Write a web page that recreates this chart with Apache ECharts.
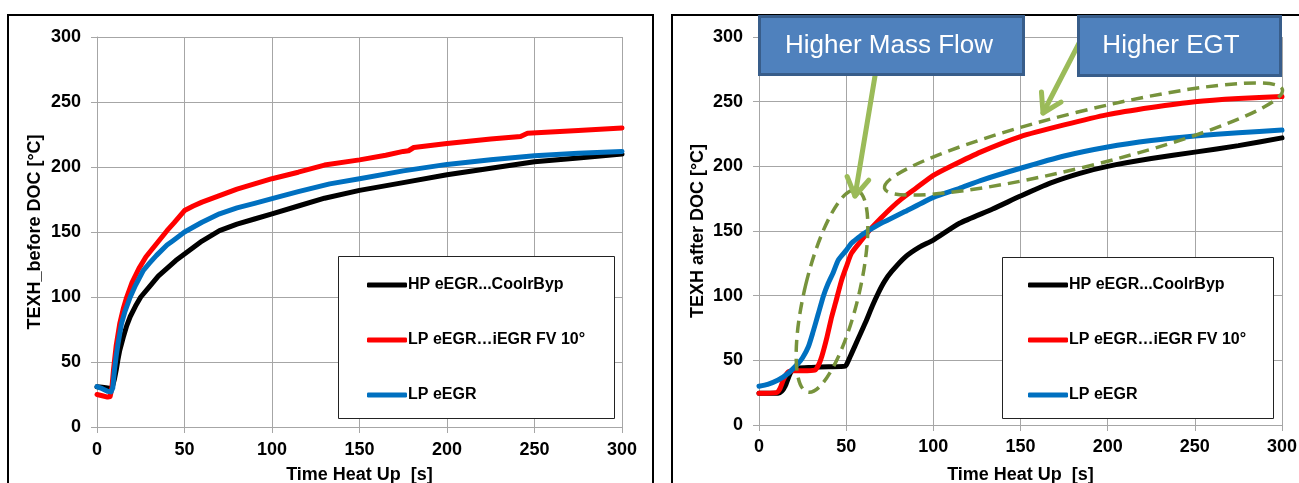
<!DOCTYPE html>
<html>
<head>
<meta charset="utf-8">
<title>TEXH before / after DOC</title>
<script src="https://cdn.jsdelivr.net/npm/echarts@6/dist/echarts.min.js"></script>
<style>
  html, body { margin: 0; padding: 0; background: #fff; }
  #chart { width: 1299px; height: 483px; }
</style>
</head>
<body>
<div id="chart"></div>
<script>
// legend names (same order in both panels)
const seriesNames = ["HP eEGR...CoolrByp", "LP eEGR…iEGR FV 10°", "LP eEGR"];

// left panel: TEXH before DOC
const beforeHpTime = [0, 3, 6, 8, 9, 10, 11, 12, 13, 15, 17, 19, 22, 25, 30, 35, 40, 45, 50, 60, 70, 80, 90, 100, 115, 130, 150, 175, 200, 225, 250, 275, 300];
const beforeHpTemp = [31, 30.5, 30, 29.5, 32, 37, 44, 52, 59, 69, 78, 85, 93, 100, 108, 116, 122, 128, 133, 143, 151, 156, 160, 164, 170, 176, 182, 188, 194, 199, 204, 207, 210];

const beforeFvTime = [0, 3, 6, 7.5, 8.5, 9.5, 11, 13, 15, 17, 20, 24, 28, 34, 40, 44, 50, 55, 60, 70, 80, 90, 100, 115, 130, 150, 165, 175, 178, 181, 200, 225, 242, 246, 275, 300];
const beforeFvTemp = [25, 24, 23, 23.5, 30, 45, 63, 79.5, 91, 100, 111, 122, 131, 141, 151, 157, 166.5, 170, 173, 178, 183, 187, 191, 196, 201.5, 205.5, 209, 212, 212.5, 215, 218, 221.5, 223.5, 226, 228, 230];

const beforeLpTime = [0, 3, 6, 8, 9, 10, 11, 12, 14, 16, 19, 22, 26.5, 30, 34, 40, 43.6, 50, 60, 70, 80, 90, 100, 115, 133, 150, 175, 200, 225, 250, 275, 300];
const beforeLpTemp = [31, 29.5, 27.5, 27, 30, 44, 55, 64, 79.5, 89, 100, 109, 120.5, 126, 132, 140, 143.5, 150, 157.5, 164, 168.5, 172, 175.7, 181, 187, 191, 197, 202, 205.5, 208.7, 210.5, 212];

// right panel: TEXH after DOC
const afterHpTime = [0, 11, 13, 15, 17, 19, 22, 30, 40, 49.5, 51, 53, 57, 61, 65, 68.4, 72, 76, 84, 92, 100, 115, 134, 150, 167, 184, 200, 225, 250, 275, 300];
const afterHpTemp = [24.5, 24.5, 26, 30, 37, 42.5, 44, 44.5, 45, 45.5, 49, 55, 67, 79, 92, 102, 111, 118.5, 130, 137.5, 143, 156, 167, 177, 187, 194.6, 200, 206, 211, 216, 222];

const afterFvTime = [0, 10, 12, 14, 16.8, 20, 25, 32, 34, 36, 39, 41.7, 44, 47.4, 50, 53, 58.9, 63.7, 70, 76, 82, 90, 100, 110, 127, 150, 175, 200, 225, 250, 275, 300];
const afterFvTemp = [24.5, 25, 28, 35, 41, 42, 42, 42.5, 46, 53, 68, 83.7, 95, 112, 122, 132.7, 143, 151, 160, 168, 175, 183, 193, 200, 211, 223, 232, 240, 245.5, 250, 252.5, 254];

const afterLpTime = [0, 5, 11, 16.8, 22.5, 25, 28.3, 31, 34, 37, 39.7, 42.6, 45.5, 50, 53, 58, 63.7, 70, 74, 83.7, 100, 115, 127, 150, 175, 200, 225, 250, 275, 300];
const afterLpTemp = [30, 31.5, 34.8, 40, 47.7, 52, 60.5, 72, 86, 100, 109.6, 118, 127.6, 135, 140.5, 146, 151, 156, 158.5, 165, 176, 183, 189, 198.5, 208, 215, 220, 223.5, 226, 228];

const zip = (t, v) => t.map((x, i) => [x, v[i]]);

const lineColors = ["#000000", "#ff0000", "#0070c0"];
const font = "'Liberation Sans', Arial, sans-serif";
const gridGray = "#a6a6a6";

// one x/y axis pair per panel
const makeXAxis = (gridIndex, labelMargin, nameGap) => ({
  type: "value",
  gridIndex,
  min: 0,
  max: 300,
  interval: 50,
  name: "Time Heat Up  [s]",
  nameLocation: "middle",
  nameGap,
  nameMoveOverlap: false,
  nameTextStyle: { fontFamily: font, fontWeight: "bold", fontSize: 18, color: "#000" },
  axisLine: { show: true, lineStyle: { color: gridGray, width: 1 } },
  axisTick: { show: true, inside: false, length: 6, lineStyle: { color: gridGray } },
  axisLabel: { margin: labelMargin, fontFamily: font, fontWeight: "bold", fontSize: 18, color: "#000" },
  splitLine: { show: true, lineStyle: { color: gridGray, width: 1 } }
});
const makeYAxis = (gridIndex, name, nameGap) => ({
  type: "value",
  gridIndex,
  min: 0,
  max: 300,
  interval: 50,
  name,
  nameLocation: "middle",
  nameGap,
  nameMoveOverlap: false,
  nameTextStyle: { fontFamily: font, fontWeight: "bold", fontSize: 18, color: "#000" },
  axisLine: { show: true, lineStyle: { color: gridGray, width: 1 } },
  axisTick: { show: true, inside: false, length: 6, lineStyle: { color: gridGray } },
  axisLabel: { margin: 16, fontFamily: font, fontWeight: "bold", fontSize: 18, color: "#000" },
  splitLine: { show: true, lineStyle: { color: gridGray, width: 1 } }
});

const makeSeries = (idx, data, k, smooth) => ({
  name: seriesNames[k],
  type: "line",
  xAxisIndex: idx,
  yAxisIndex: idx,
  data,
  symbol: "none",
  smooth,
  lineStyle: { color: lineColors[k], width: 5, cap: "round", join: "round" },
  itemStyle: { color: lineColors[k] }
});

const makeLegend = left => ({
  left,
  top: 272,
  orient: "vertical",
  itemGap: 39,
  itemWidth: 40,
  itemHeight: 5,
  icon: "roundRect",
  selectedMode: false,
  data: seriesNames,
  textStyle: { fontFamily: font, fontWeight: "bold", fontSize: 16, color: "#000", padding: [0, 0, 0, -4] }
});

// green call-out arrow
const arrow = (x1, y1, x2, y2) => {
  const a = Math.atan2(y2 - y1, x2 - x1);
  const len = 21, spread = 0.55;
  const p1 = [x2 - len * Math.cos(a - spread), y2 - len * Math.sin(a - spread)];
  const p2 = [x2 - len * Math.cos(a + spread), y2 - len * Math.sin(a + spread)];
  const st = { stroke: "#9bbb59", lineWidth: 5, fill: null, lineCap: "round", lineJoin: "round" };
  return [
    { type: "line", z: 60, shape: { x1, y1, x2, y2 }, style: st },
    { type: "polyline", z: 60, shape: { points: [p1, [x2, y2], p2] }, style: st }
  ];
};
const dashed = { fill: "transparent", stroke: "#77933c", lineWidth: 3.5, lineDash: [12, 7] };
const boxStyle = { fill: "#4f81bd", stroke: "#385d8a", lineWidth: 3 };
const boxText = { fill: "#fff", font: "26px " + font, textAlign: "center", textVerticalAlign: "middle" };

const option = {
  animation: false,
  backgroundColor: "#fff",
  grid: [
    { left: 97, right: 677, top: 37, bottom: 56, containLabel: false, outerBoundsMode: "none" },
    { left: 759, right: 17, top: 37, bottom: 58, containLabel: false, outerBoundsMode: "none" }
  ],
  xAxis: [makeXAxis(0, 14, 39), makeXAxis(1, 13, 41)],
  yAxis: [makeYAxis(0, "TEXH_before DOC [°C]", 53), makeYAxis(1, "TEXH after DOC [°C]", 52)],
  legend: [makeLegend(362), makeLegend(1023)],
  series: [
    makeSeries(0, zip(beforeHpTime, beforeHpTemp), 0, false),
    makeSeries(0, zip(beforeFvTime, beforeFvTemp), 1, false),
    makeSeries(0, zip(beforeLpTime, beforeLpTemp), 2, false),
    makeSeries(1, zip(afterHpTime, afterHpTemp), 0, 0.2),
    makeSeries(1, zip(afterFvTime, afterFvTemp), 1, 0.2),
    makeSeries(1, zip(afterLpTime, afterLpTemp), 2, 0.2)
  ],
  graphic: [
    // panel frames
    { type: "rect", z: 1, shape: { x: 8, y: 15, width: 645, height: 500 }, style: { fill: "transparent", stroke: "#000", lineWidth: 2 } },
    { type: "rect", z: 1, shape: { x: 672, y: 15, width: 650, height: 500 }, style: { fill: "transparent", stroke: "#000", lineWidth: 2 } },
    // legend boxes
    { type: "rect", z: 3, shape: { x: 338.5, y: 256.5, width: 276, height: 162 }, style: { fill: "#fff", stroke: "#222", lineWidth: 1 } },
    { type: "rect", z: 3, shape: { x: 1002.5, y: 257.5, width: 271, height: 161 }, style: { fill: "#fff", stroke: "#222", lineWidth: 1 } },
    // dashed ellipses
    { type: "ellipse", z: 50, x: 832, y: 291, rotation: -0.237, shape: { cx: 0, cy: 0, rx: 27, ry: 104 }, style: dashed },
    { type: "ellipse", z: 50, x: 1083.5, y: 139, rotation: 0.243, shape: { cx: 0, cy: 0, rx: 205, ry: 27.5 }, style: dashed },
    ...arrow(876, 70, 855, 196),
    ...arrow(1090, 22, 1043, 113),
    // call-out boxes
    { type: "rect", z: 70, shape: { x: 759.5, y: 16.5, width: 264, height: 58 }, style: boxStyle },
    { type: "text", z: 71, x: 889, y: 46, style: Object.assign({ text: "Higher Mass Flow" }, boxText) },
    { type: "rect", z: 70, shape: { x: 1078.5, y: 16.5, width: 202, height: 59 }, style: boxStyle },
    { type: "text", z: 71, x: 1171, y: 46, style: Object.assign({ text: "Higher EGT" }, boxText) }
  ]
};

const myChart = echarts.init(document.getElementById("chart"), null, { renderer: "canvas" });
myChart.setOption(option);
</script>
</body>
</html>
